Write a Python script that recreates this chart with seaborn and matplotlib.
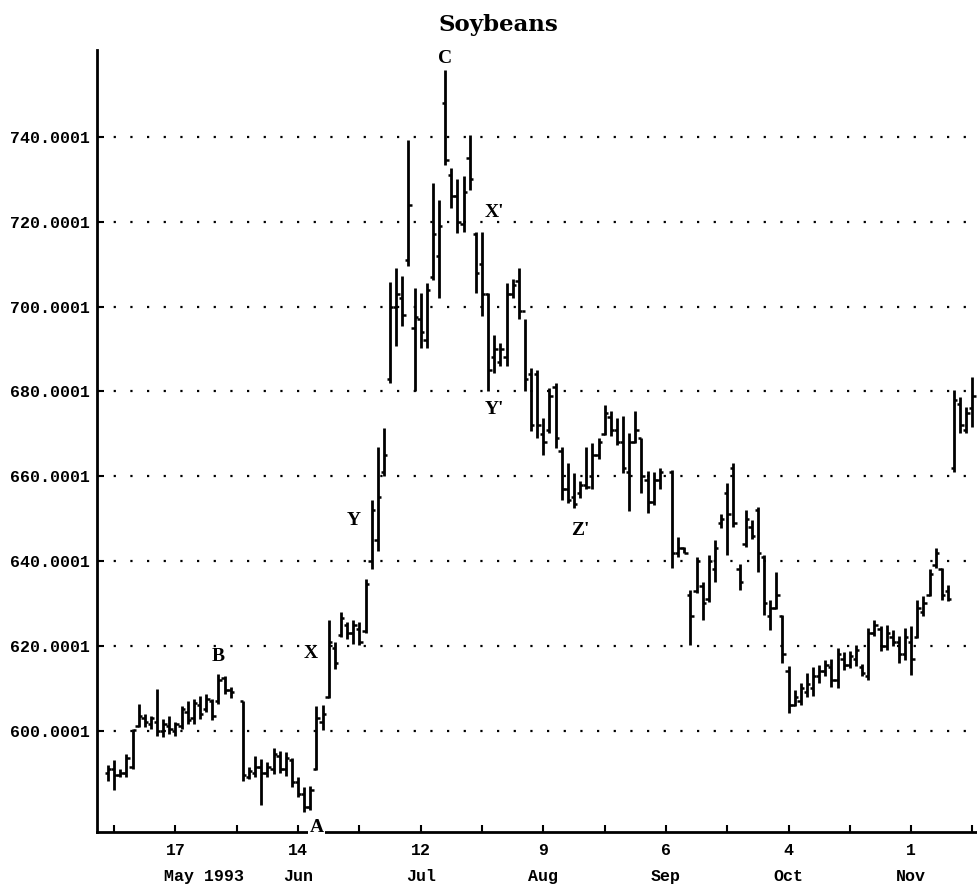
import pandas as pd
import matplotlib.pyplot as plt
import seaborn as sns

# daily soybean futures bars, 30 Apr - 15 Nov 1993 (cents/bu)
holidays = ['1993-05-31', '1993-09-06']

high = [591.8, 593.0, 591.0, 594.5, 600.4, 606.3, 603.9, 603.5, 609.8, 602.7,
        603.5, 602.0, 605.9, 607.0, 607.5, 608.2, 608.6, 607.5, 613.3, 613.0,
        610.2, 607.0, 591.5, 594.0, 593.3, 592.5, 596.0, 595.2, 595.0, 593.5,
        589.0, 586.7, 587.0, 605.7, 606.0, 626.0, 621.0, 627.9, 625.6, 626.0,
        625.6, 635.8, 654.5, 666.8, 671.4, 705.9, 709.1, 707.1, 739.3, 704.4,
        703.2, 705.5, 729.1, 725.2, 755.8, 732.6, 730.0, 730.7, 740.5, 717.7,
        717.7, 703.2, 693.4, 691.4, 705.5, 706.5, 709.0, 697.0, 685.5, 685.0,
        673.7, 680.8, 682.0, 667.0, 663.0, 660.8, 658.8, 667.0, 667.8, 669.0,
        676.8, 675.3, 673.7, 674.1, 670.2, 675.3, 669.0, 661.2, 661.0, 662.0,
        661.4, 645.7, 643.4, 633.2, 641.0, 635.1, 641.4, 644.9, 651.2, 658.3,
        663.0, 639.4, 652.0, 649.6, 652.8, 641.4, 630.8, 637.5, 627.3, 615.2,
        609.7, 611.2, 613.5, 615.1, 615.5, 616.7, 617.0, 619.5, 618.6, 618.7,
        620.3, 615.8, 624.2, 626.2, 624.6, 625.0, 623.8, 622.2, 624.2, 624.6,
        630.9, 631.7, 638.0, 643.0, 638.3, 634.4, 680.3, 678.7, 676.4, 683.5]
low = [588.2, 586.0, 589.0, 589.0, 591.0, 600.8, 600.8, 600.4, 598.8, 598.4,
       599.2, 598.8, 600.4, 601.6, 601.6, 602.7, 604.3, 602.4, 606.3, 608.6,
       607.8, 588.2, 588.6, 589.0, 582.4, 589.0, 589.8, 590.0, 589.4, 586.7,
       584.3, 580.9, 581.2, 590.7, 600.2, 607.6, 614.5, 622.0, 621.6, 620.5,
       620.1, 623.0, 638.0, 642.3, 660.0, 682.0, 690.6, 695.3, 709.5, 680.0,
       690.2, 690.2, 706.3, 702.0, 733.4, 723.2, 717.3, 717.7, 727.5, 703.2,
       697.7, 680.0, 684.3, 686.0, 686.0, 702.0, 697.0, 680.0, 670.6, 669.0,
       665.0, 670.2, 666.6, 654.5, 653.7, 652.5, 654.9, 657.0, 657.0, 664.0,
       669.8, 669.4, 667.4, 660.8, 651.7, 667.8, 656.0, 651.3, 653.3, 657.0,
       638.3, 641.0, 641.8, 620.2, 632.4, 626.1, 630.4, 635.1, 647.7, 641.4,
       648.1, 633.2, 643.4, 645.3, 637.5, 627.3, 623.7, 628.8, 615.9, 604.2,
       605.7, 606.1, 608.0, 608.1, 611.2, 612.8, 610.4, 610.0, 614.4, 614.8,
       615.2, 612.8, 612.0, 622.2, 618.7, 619.1, 619.9, 616.0, 616.7, 613.2,
       621.8, 627.0, 631.7, 638.3, 630.9, 630.5, 661.1, 670.1, 670.1, 671.7]
opens = [590.0, 591.0, 589.5, 590.0, 591.5, 601.0, 603.0, 601.5, 602.0, 600.0,
         601.0, 600.0, 601.0, 604.5, 603.0, 606.0, 605.0, 607.0, 607.0, 612.5,
         609.5, 607.0, 589.0, 590.0, 591.5, 590.0, 591.0, 594.0, 591.0, 593.0,
         588.0, 585.0, 582.0, 591.0, 602.0, 608.0, 619.5, 622.5, 625.0, 623.0,
         624.0, 623.5, 640.0, 645.0, 661.0, 683.0, 700.0, 702.0, 711.0, 695.0,
         697.0, 692.0, 707.0, 712.0, 748.0, 731.0, 726.0, 719.5, 735.0, 717.0,
         710.0, 703.0, 688.0, 687.0, 688.0, 703.0, 706.0, 699.0, 684.0, 684.0,
         670.0, 671.0, 681.0, 666.0, 657.0, 655.0, 656.0, 658.0, 660.0, 665.0,
         670.0, 674.0, 671.0, 668.0, 661.0, 668.0, 669.0, 659.0, 654.0, 659.0,
         661.0, 642.0, 643.0, 632.0, 633.0, 634.0, 631.0, 638.0, 649.0, 656.0,
         662.0, 638.0, 644.0, 648.0, 652.0, 641.0, 627.0, 629.0, 627.0, 614.0,
         606.0, 607.0, 609.0, 610.0, 613.0, 614.0, 615.0, 612.0, 617.0, 615.5,
         617.0, 615.0, 613.0, 623.0, 624.0, 620.0, 622.0, 621.0, 618.0, 621.0,
         622.0, 628.0, 632.0, 639.0, 638.0, 633.0, 662.0, 677.0, 671.0, 676.0]
closes = [591.0, 589.5, 590.0, 593.5, 600.2, 603.5, 602.0, 603.0, 600.0, 601.5,
          600.5, 601.5, 605.0, 602.5, 606.5, 604.0, 607.5, 603.5, 612.0, 609.5,
          609.0, 589.5, 590.5, 591.5, 590.0, 591.5, 594.5, 591.0, 593.5, 588.0,
          585.0, 582.0, 586.0, 603.0, 604.0, 621.0, 616.0, 626.5, 623.0, 625.0,
          621.0, 634.5, 652.0, 655.0, 665.0, 700.0, 703.0, 698.0, 724.0, 697.5,
          694.0, 704.0, 717.0, 719.0, 734.5, 726.0, 720.0, 727.0, 730.0, 708.0,
          703.0, 685.0, 690.0, 690.0, 703.0, 705.0, 699.0, 683.0, 672.0, 672.0,
          668.0, 679.0, 669.0, 657.0, 654.5, 653.5, 658.0, 657.5, 665.0, 668.0,
          675.0, 671.0, 668.0, 662.0, 668.0, 671.0, 660.0, 654.0, 659.0, 661.0,
          642.0, 643.0, 642.0, 627.0, 640.0, 630.0, 640.0, 643.0, 650.0, 651.0,
          649.0, 635.0, 650.0, 646.0, 642.0, 630.0, 629.0, 632.0, 618.0, 606.0,
          608.0, 610.0, 611.0, 613.0, 614.0, 615.5, 612.0, 618.0, 615.5, 617.5,
          619.0, 613.5, 623.0, 625.0, 620.0, 623.0, 621.0, 618.0, 622.0, 617.0,
          629.0, 630.0, 637.0, 642.0, 632.0, 631.0, 678.0, 672.0, 675.0, 679.0]

ytick_vals = [600.0001, 620.0001, 640.0001, 660.0001, 680.0001, 700.0001, 720.0001, 740.0001]
month_names = ['May 1993', 'Jun', 'Jul', 'Aug', 'Sep', 'Oct', 'Nov']

wave_text = ['A', 'B', 'C', 'X', 'Y', "X'", "Y'", "Z'"]
wave_dates = ['1993-06-17', '1993-05-26', '1993-07-16', '1993-06-16',
              '1993-06-25', '1993-07-28', '1993-07-28', '1993-08-17']
wave_price = [577.2, 617.5, 758.6, 618.2, 649.5, 722.1, 675.7, 647.2]

# %%
sns.set_theme(style='white', rc={'text.color': 'black', 'xtick.color': 'black',
                                 'ytick.color': 'black', 'axes.labelcolor': 'black'})
plt.rcParams['font.family'] = ['Liberation Mono', 'DejaVu Sans']

all_days = pd.bdate_range('1993-04-30', '1993-11-15')
trade_days = all_days.drop(pd.to_datetime(holidays))
df = pd.DataFrame({'pos': all_days.get_indexer(trade_days), 'open': opens,
                   'high': high, 'low': low, 'close': closes})

fig = plt.figure(figsize=(9.78, 8.84), dpi=100)
ax = fig.add_axes([97 / 978, 52 / 884, 881 / 978, 782 / 884])

# high-low bars with open (left) and close (right) ticks
ax.vlines(df['pos'], df['low'], df['high'], color='black', lw=2.0)
ax.hlines(df['open'], df['pos'] - 0.55, df['pos'], color='black', lw=1.8)
ax.hlines(df['close'], df['pos'], df['pos'] + 0.55, color='black', lw=1.8)

ax.set_xlim(-1.8, 141.9)
ax.set_ylim(576.1, 760.5)

ax.set_yticks(ytick_vals)
ax.set_yticklabels(['%.4f' % v for v in ytick_vals])
ax.grid(axis='y', color='black', lw=1.6, linestyle=(0, (1, 6.5)))
ax.grid(axis='x', visible=False)

tick_dates = pd.date_range('1993-05-03', '1993-11-15', freq='14D')
tick_pos = all_days.get_indexer(tick_dates)
ax.set_xticks(tick_pos)
ax.set_xticklabels([str(d.day) if i % 2 == 1 else '' for i, d in enumerate(tick_dates)])

for i, p in enumerate(tick_pos[1::2]):
    if i == 0:
        ax.annotate(month_names[i], xy=(p, 0), xycoords=('data', 'axes fraction'),
                    xytext=(-8.5, -32), textcoords='offset points', ha='left', va='center',
                    fontsize=12, fontweight='bold', color='black')
    else:
        ax.annotate(month_names[i], xy=(p, 0), xycoords=('data', 'axes fraction'),
                    xytext=(0, -32), textcoords='offset points', ha='center', va='center',
                    fontsize=12, fontweight='bold', color='black')

ax.tick_params(axis='both', direction='in', length=5, width=1.5, colors='black',
               labelsize=12, bottom=True, left=True)
ax.tick_params(axis='x', pad=8)
ax.tick_params(axis='y', pad=5)
for t in ax.get_xticklabels() + ax.get_yticklabels():
    t.set_fontweight('bold')

sns.despine(ax=ax)
for s in ['left', 'bottom']:
    ax.spines[s].set_color('black')
    ax.spines[s].set_linewidth(2)

wave_pos = all_days.get_indexer(pd.to_datetime(wave_dates))
for txt, p, v in zip(wave_text, wave_pos, wave_price):
    box = dict(facecolor='white', edgecolor='none', pad=1) if txt == 'A' else None
    ax.text(p, v, txt, ha='center', va='center', fontsize=14, fontweight='bold',
            family='Liberation Serif', color='black', bbox=box, clip_on=False, zorder=5)

fig.text(498 / 978, 1 - 25 / 884, 'Soybeans', ha='center', va='center',
         fontsize=16.5, fontweight='bold', family='DejaVu Serif', color='black')

fig.savefig('out.png', dpi=100)
